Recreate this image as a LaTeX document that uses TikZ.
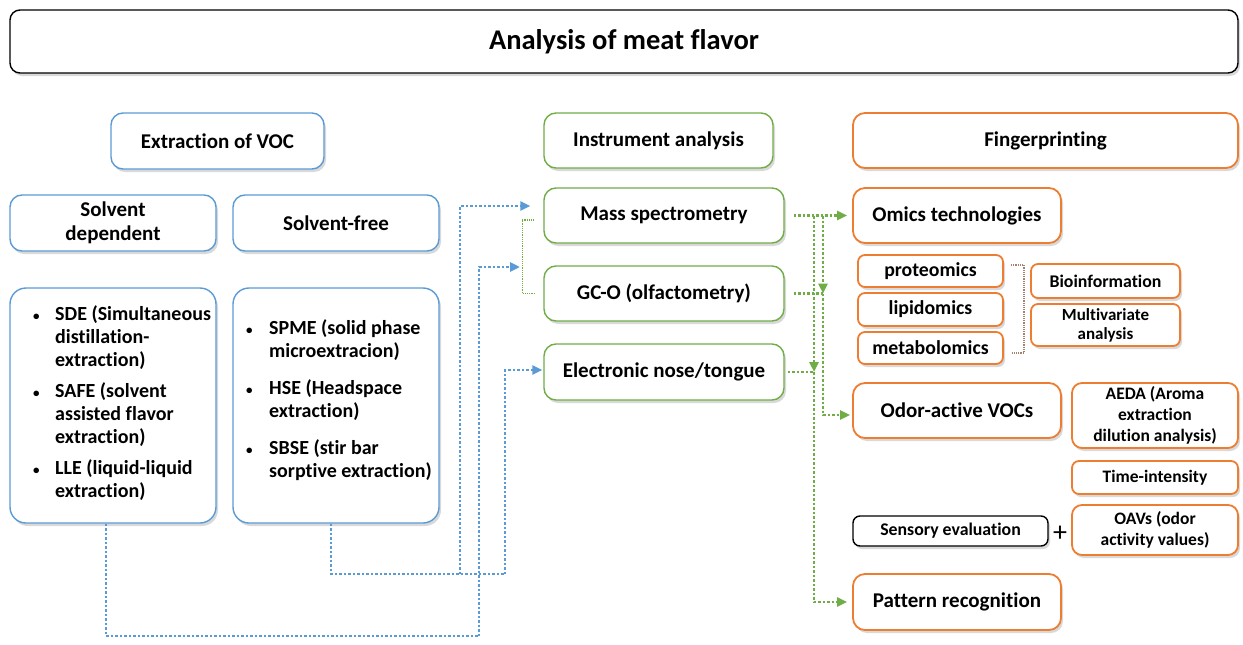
\documentclass[tikz,border=0pt]{standalone}
\usepackage{fontspec}
\setmainfont{Carlito}[Ligatures=NoCommon]
\usetikzlibrary{arrows.meta,shadows,calc}

\definecolor{vocblue}{HTML}{5B9BD5}
\definecolor{insgreen}{HTML}{70AD47}
\definecolor{fporange}{HTML}{ED7D31}
\definecolor{brkbrown}{HTML}{A67F6F}

\newcommand{\smbul}{{\fontsize{13}{13}\selectfont\textbullet}}

\tikzset{
  box/.style={draw, fill=white, rounded corners=12pt, line width=1.4pt, align=center,
    inner sep=2pt, font=\bfseries\fontsize{21}{24}\selectfont,
    drop shadow={shadow xshift=2pt, shadow yshift=-3pt, opacity=0.3}},
  sz/.style 2 args={minimum width=#1pt, minimum height=#2pt},
  bluebox/.style={box, draw=vocblue},
  greenbox/.style={box, draw=insgreen},
  orangebox/.style={box, draw=fporange, line width=1.8pt},
  smallbox/.style={orangebox, rounded corners=7pt, font=\bfseries\fontsize{19.8}{22}\selectfont},
  tinybox/.style={orangebox, rounded corners=7pt, font=\bfseries\fontsize{17.8}{20}\selectfont},
  listtxt/.style={inner sep=0pt, align=left, font=\bfseries\fontsize{20}{23}\selectfont},
  bline/.style={vocblue, line width=2.5pt, dash pattern=on 2.5pt off 2pt},
  gline/.style={insgreen, line width=2.5pt, dash pattern=on 2.5pt off 2pt},
  gthin/.style={insgreen, line width=1.2pt, dash pattern=on 1.2pt off 1pt},
  brline/.style={brkbrown, line width=1.2pt, dash pattern=on 1.2pt off 1pt},
  arr/.style={-{Triangle[length=10pt,width=9pt]}},
}

\begin{document}
\begin{tikzpicture}[x=1pt, y=-1pt]
  \useasboundingbox (0,0) rectangle (1243,645);

  % title
  \node[box, draw=black, rounded corners=10pt, sz={1228}{63}, font=\bfseries\fontsize{28.5}{30}\selectfont] (title) at (624,41.5) {Analysis of meat flavor};

  % column heads
  \node[bluebox, sz={213}{56}] (voc) at (217.5,141) {Extraction of VOC};
  \node[greenbox, sz={229}{55}] (instr) at (658.5,140.5) {Instrument analysis};
  \node[orangebox, sz={385}{55}] (finger) at (1045.5,140.5) {Fingerprinting};

  % extraction
  \node[bluebox, sz={206}{56}] (solvdep) at (113,223) {Solvent\\dependent};
  \node[bluebox, sz={206}{56}] (solvfree) at (336,223) {Solvent-free};
  \node[bluebox, rounded corners=16pt, sz={206}{235}] (depbox) at (113,405.5) {};
  \node[bluebox, rounded corners=16pt, sz={206}{235}] (freebox) at (336,405.5) {};
  \node[listtxt, anchor=west] (deplist) at (33,404) {\begin{tabular}{@{}p{22pt}@{}l@{}}
    \smbul & SDE (Simultaneous\\ & distillation-\\ & extraction)\\[8pt]
    \smbul & SAFE (solvent\\ & assisted flavor\\ & extraction)\\[8pt]
    \smbul & LLE (liquid-liquid\\ & extraction)
  \end{tabular}};
  \node[listtxt, anchor=west] (freelist) at (246,401) {\begin{tabular}{@{}p{23pt}@{}l@{}}
    \smbul & SPME (solid phase\\ & microextracion)\\[14pt]
    \smbul & HSE (Headspace\\ & extraction)\\[14pt]
    \smbul & SBSE (stir bar\\ & sorptive extraction)
  \end{tabular}};

  % instruments
  \node[greenbox, sz={240}{55}] (ms) at (664,215.5) {Mass spectrometry};
  \node[greenbox, sz={240}{55}] (gco) at (664,293.5) {GC-O (olfactometry)};
  \node[greenbox, sz={240}{56}] (enose) at (664,372) {Electronic nose/tongue};

  % fingerprinting
  \node[orangebox, sz={208}{55}] (omics) at (957,215.5) {Omics technologies};
  \node[smallbox, sz={145}{32}] (prot) at (930.5,271) {proteomics};
  \node[smallbox, sz={145}{33}] (lipid) at (930.5,309.5) {lipidomics};
  \node[smallbox, sz={145}{32}] (metab) at (930.5,348) {metabolomics};
  \node[tinybox, sz={149}{34}] (bioinf) at (1105.5,281) {Bioinformation};
  \node[tinybox, sz={149}{42}, font=\bfseries\fontsize{17}{19}\selectfont] (multiv) at (1105.5,325) {Multivariate\\analysis};
  \node[orangebox, sz={208}{55}] (odor) at (957,410.5) {Odor-active VOCs};
  \node[tinybox, sz={166}{65}, rounded corners=10pt, font=\bfseries\fontsize{17.5}{21}\selectfont] (aeda) at (1155,415.5) {AEDA (Aroma\\extraction\\dilution analysis)};
  \node[tinybox, sz={166}{33}, font=\bfseries\fontsize{17.5}{21}\selectfont] (timeint) at (1155,477.5) {Time-intensity};
  \node[tinybox, draw=black, line width=1.4pt, sz={195}{30}] (sensory) at (950.5,531) {Sensory evaluation};
  \node[font=\fontsize{28}{28}\selectfont, inner sep=0pt] (plus) at (1060,534) {+};
  \node[tinybox, sz={166}{50}, rounded corners=10pt, font=\bfseries\fontsize{17.5}{21}\selectfont] (oavs) at (1155,530) {OAVs (odor\\activity values)};
  \node[orangebox, sz={208}{56}] (pattern) at (957,602) {Pattern recognition};

  % blue connectors
  \coordinate (bjA) at (460,574);
  \coordinate (bjB) at (505,574);
  \coordinate (bjC) at (479,636);
  \coordinate (brk) at (523,267);
  \draw[bline] ([xshift=-5pt]freebox.south) |- (bjB);
  \draw[bline, arr] (bjA) |- ([xshift=-13pt,yshift=9.5pt]ms.west);
  \draw[bline, arr] (bjB) |- ([xshift=-1pt,yshift=2pt]enose.west);
  \draw[bline] ([xshift=-7pt]depbox.south) |- (bjC);
  \draw[bline, arr, shorten >=3pt] (bjC) |- (brk);

  % green bracket
  \draw[gthin] ([xshift=-9pt,yshift=-4.5pt]ms.west) -| ([xshift=-21pt]gco.west) -- ([xshift=-9pt]gco.west);

  % green connectors
  \coordinate (gA) at (814,216);
  \coordinate (gB) at (823,216);
  \draw[gline, arr] ([xshift=9pt]ms.east) -- ([xshift=-5pt]omics.west);
  \draw[gline, arr] (gB) -- (gB |- gco.east);
  \draw[gline] ([xshift=9pt]gco.east) -- (gB |- gco.east);
  \draw[gline, arr] (gB |- gco.east) |- ([xshift=-2pt,yshift=-4.5pt]odor.west);
  \draw[gline, arr] (gA) -- (gA |- enose.east);
  \draw[gline] ([xshift=3pt]enose.east) -- (gA |- enose.east);
  \draw[gline, arr] (gA |- enose.east) |- ([xshift=-5pt]pattern.west);

  % brown bracket
  \draw[brline] ([xshift=7pt,yshift=6pt]prot.east) -| ([xshift=20pt,yshift=-5pt]metab.east) -- ([xshift=7pt,yshift=-5pt]metab.east);
\end{tikzpicture}
\end{document}
